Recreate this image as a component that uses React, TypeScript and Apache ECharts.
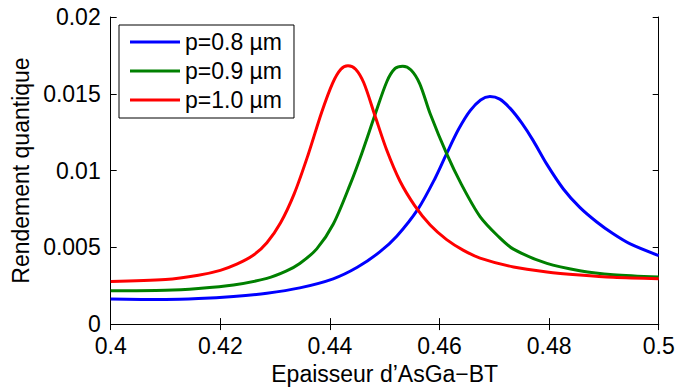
import React, { useEffect, useRef } from "react";
import * as echarts from "echarts";

const seriesNames = ["p=0.8 µm", "p=0.9 µm", "p=1.0 µm"];
const seriesColors = ["#0000ff", "#008000", "#ff0000"];

const blueX = [0.4, 0.41, 0.416, 0.4224, 0.4285, 0.4345, 0.4406, 0.445, 0.4491, 0.4522, 0.4561, 0.4592, 0.4613, 0.4635, 0.4656, 0.4675, 0.4692, 0.471, 0.4729, 0.475, 0.4771, 0.4796, 0.4826, 0.4856, 0.4887, 0.4917, 0.4948, 0.5];
const blueY = [0.00163, 0.0016, 0.00166, 0.0018, 0.00201, 0.00236, 0.00295, 0.0037, 0.0047, 0.00572, 0.0075, 0.0095, 0.0111, 0.0127, 0.0139, 0.0146, 0.01482, 0.01465, 0.01405, 0.0131, 0.01195, 0.0104, 0.0088, 0.0076, 0.00665, 0.00588, 0.00522, 0.00446];

const greenX = [0.4, 0.41, 0.416, 0.4224, 0.4285, 0.432, 0.4345, 0.4376, 0.4406, 0.4437, 0.4458, 0.4482, 0.4504, 0.4519, 0.4533, 0.4548, 0.4564, 0.4583, 0.4613, 0.464, 0.4674, 0.4707, 0.4735, 0.4796, 0.4856, 0.4917, 0.5];
const greenY = [0.00217, 0.0022, 0.00232, 0.00255, 0.00298, 0.00345, 0.00395, 0.0049, 0.0065, 0.0091, 0.0111, 0.0136, 0.0158, 0.01665, 0.0168, 0.01655, 0.01565, 0.0137, 0.0111, 0.0091, 0.007, 0.00572, 0.00488, 0.00395, 0.00348, 0.00322, 0.00307];

const redX = [0.4, 0.41, 0.416, 0.42, 0.423, 0.426, 0.4285, 0.431, 0.4335, 0.436, 0.4385, 0.4405, 0.442, 0.4433, 0.4447, 0.4462, 0.4482, 0.4504, 0.4528, 0.4555, 0.4583, 0.4613, 0.4643, 0.4674, 0.4735, 0.4796, 0.4856, 0.4917, 0.5];
const redY = [0.00277, 0.0029, 0.00318, 0.0035, 0.0039, 0.00448, 0.0053, 0.0066, 0.0085, 0.011, 0.0138, 0.0157, 0.0166, 0.01682, 0.0166, 0.0157, 0.0136, 0.0113, 0.0093, 0.0077, 0.00645, 0.0055, 0.00482, 0.0043, 0.00372, 0.0034, 0.0032, 0.00305, 0.00296];

const xTitle = "Epaisseur d’AsGa−BT";
const yTitle = "Rendement quantique";

const FONT = "'Liberation Sans', Arial, Helvetica, sans-serif";

export default function App() {
  const ref = useRef<HTMLDivElement>(null);
  useEffect(() => {
    if (!ref.current) return;
    const chart = echarts.init(ref.current, null, { renderer: "svg" });
    const xs = [blueX, greenX, redX];
    const ys = [blueY, greenY, redY];
    const fmt = (v: number) => String(+Number(v).toFixed(4));
    const axisLine = { show: true, lineStyle: { color: "#000", width: 1 } };
    const tick = { show: true, inside: true, length: 6, lineStyle: { color: "#000", width: 1 } };
    chart.setOption({
      animation: false,
      backgroundColor: "#fff",
      textStyle: { fontFamily: FONT },
      grid: { left: 110.7, right: 19.3, top: 17, bottom: 62, containLabel: false },
      legend: {
        orient: "vertical",
        left: 119,
        top: 25,
        backgroundColor: "#fff",
        borderColor: "#000",
        borderWidth: 1,
        borderRadius: 0,
        padding: [4, 12, 5, 11],
        itemGap: 3,
        itemWidth: 50,
        itemHeight: 3,
        icon: "rect",
        textStyle: { fontSize: 23, lineHeight: 26, color: "#000", fontFamily: FONT },
        data: seriesNames,
      },
      xAxis: [
        {
          type: "value",
          min: 0.4,
          max: 0.5,
          interval: 0.02,
          position: "bottom",
          name: xTitle,
          nameLocation: "middle",
          nameGap: 32,
          nameTextStyle: { fontSize: 23, color: "#000", fontFamily: FONT },
          axisLine,
          axisTick: tick,
          axisLabel: { fontSize: 23, color: "#000", margin: 10, formatter: fmt, fontFamily: FONT },
          splitLine: { show: false },
        },
        {
          type: "value",
          min: 0.4,
          max: 0.5,
          interval: 0.02,
          position: "top",
          axisLine,
          axisTick: tick,
          axisLabel: { show: false },
          splitLine: { show: false },
        },
      ],
      yAxis: [
        {
          type: "value",
          min: 0,
          max: 0.02,
          interval: 0.005,
          position: "left",
          name: yTitle,
          nameLocation: "middle",
          nameGap: 77,
          nameTextStyle: { fontSize: 23, color: "#000", fontFamily: FONT },
          axisLine,
          axisTick: tick,
          axisLabel: { fontSize: 23, color: "#000", margin: 10, formatter: fmt, fontFamily: FONT },
          splitLine: { show: false },
        },
        {
          type: "value",
          min: 0,
          max: 0.02,
          interval: 0.005,
          position: "right",
          axisLine,
          axisTick: tick,
          axisLabel: { show: false },
          splitLine: { show: false },
        },
      ],
      series: seriesNames.map((name, i) => ({
        name,
        type: "line",
        xAxisIndex: 0,
        yAxisIndex: 0,
        smooth: 0.3,
        showSymbol: false,
        symbol: "none",
        color: seriesColors[i],
        lineStyle: { width: 3, color: seriesColors[i] },
        data: xs[i].map((x, k) => [x, ys[i][k]]),
        z: 2,
      })),
    });
    return () => chart.dispose();
  }, []);
  return <div ref={ref} style={{ position: "fixed", left: 0, top: 0, width: 678, height: 390 }} />;
}
